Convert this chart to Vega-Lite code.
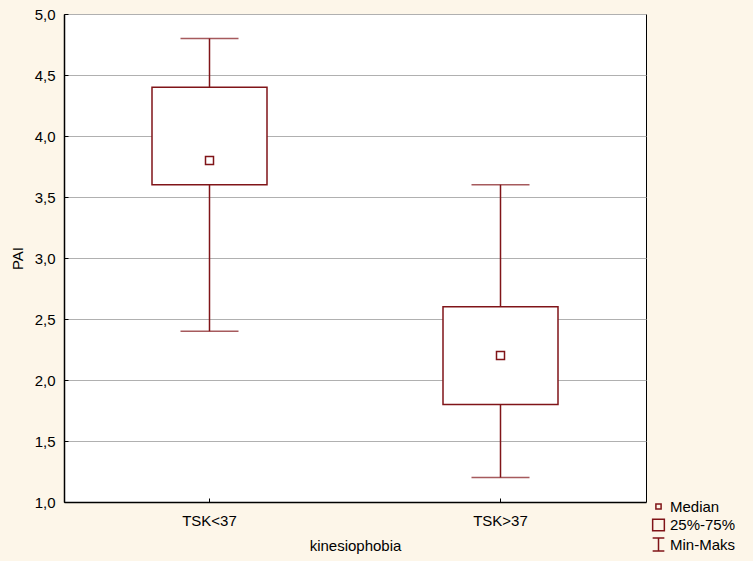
{
  "$schema": "https://vega.github.io/schema/vega-lite/v6.json",
  "width": 582,
  "height": 488,
  "autosize": {"type": "none"},
  "padding": {"left": 64, "top": 14, "right": 107, "bottom": 59},
  "background": "#fdf6e9",
  "config": {
    "font": "Liberation Sans",
    "view": {"stroke": "#000000", "strokeWidth": 1, "fill": "#ffffff"},
    "axis": {
      "labelFont": "Liberation Sans",
      "titleFont": "Liberation Sans",
      "labelFontSize": 15,
      "titleFontSize": 15,
      "labelColor": "#000000",
      "titleColor": "#000000",
      "titleFontWeight": "normal",
      "domainColor": "#000000",
      "domainWidth": 1.5,
      "tickColor": "#000000",
      "tickSize": -4,
      "gridColor": "#b0b0b0",
      "gridWidth": 1
    }
  },
  "data": {
    "values": [
      {"group": "TSK<37", "min": 2.4, "q1": 3.6, "median": 3.8, "q3": 4.4, "max": 4.8},
      {"group": "TSK>37", "min": 1.2, "q1": 1.8, "median": 2.2, "q3": 2.6, "max": 3.6}
    ]
  },
  "encoding": {
    "x": {
      "field": "group",
      "type": "nominal",
      "title": "kinesiophobia",
      "scale": {"paddingInner": 0, "paddingOuter": 0},
      "axis": {"labelAngle": 0, "labelPadding": 15, "titlePadding": 10, "grid": false}
    }
  },
  "layer": [
    {
      "mark": {"type": "rule", "color": "#801418", "strokeWidth": 1.5},
      "encoding": {
        "y": {
          "field": "min",
          "type": "quantitative",
          "title": "PAI",
          "scale": {"domain": [1, 5], "nice": false, "zero": false},
          "axis": {
            "values": [1, 1.5, 2, 2.5, 3, 3.5, 4, 4.5, 5],
            "labelExpr": "replace(format(datum.value, '.1f'), '.', ',')",
            "labelPadding": 13,
            "titlePadding": 9,
            "grid": true
          }
        },
        "y2": {"field": "max"}
      }
    },
    {
      "mark": {"type": "tick", "color": "#801418", "size": 58, "thickness": 1.5},
      "encoding": {"y": {"field": "min", "type": "quantitative"}}
    },
    {
      "mark": {"type": "tick", "color": "#801418", "size": 58, "thickness": 1.5},
      "encoding": {"y": {"field": "max", "type": "quantitative"}}
    },
    {
      "mark": {"type": "bar", "fill": "#ffffff", "stroke": "#801418", "strokeWidth": 1.5, "size": 115},
      "encoding": {
        "y": {"field": "q1", "type": "quantitative"},
        "y2": {"field": "q3"}
      }
    },
    {
      "mark": {"type": "point", "filled": false, "color": "#801418", "strokeWidth": 1.5, "size": 400, "opacity": 1},
      "encoding": {
        "y": {"field": "median", "type": "quantitative"},
        "shape": {
          "datum": "Median",
          "scale": {
            "domain": ["Median", "25%-75%", "Min-Maks"],
            "range": [
              "M-0.4,-0.4H0.4V0.4H-0.4Z",
              "M-0.9,-0.9H0.9V0.9H-0.9Z",
              "M-0.9,-1H0.9M0,-1V1M-0.9,1H0.9"
            ]
          },
          "legend": {
            "title": null,
            "orient": "none",
            "legendX": 587,
            "legendY": 485,
            "symbolSize": 169,
            "symbolStrokeColor": "#801418",
            "symbolFillColor": "transparent",
            "symbolStrokeWidth": 1.5,
            "labelFont": "Liberation Sans",
            "labelFontSize": 15,
            "labelColor": "#000000",
            "labelOffset": 4,
            "rowPadding": 0.5
          }
        }
      }
    }
  ]
}
